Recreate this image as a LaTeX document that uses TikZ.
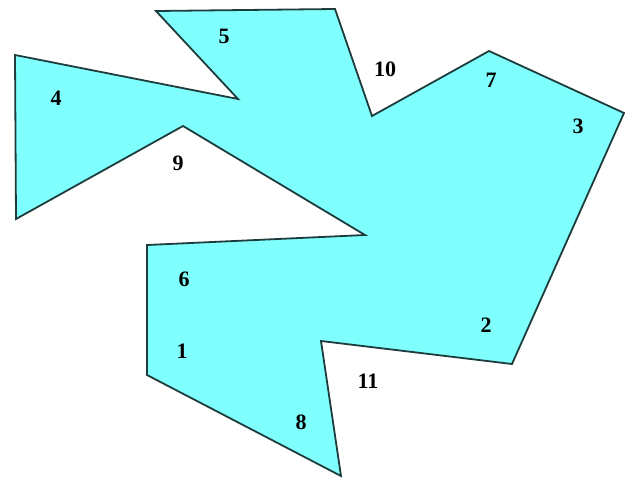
\documentclass[tikz,border=0pt]{standalone}
\usepackage{fontspec}
\setmainfont{Liberation Serif}
\definecolor{polyfill}{HTML}{80FFFF}
\definecolor{polyline}{HTML}{1E3C3C}
\begin{document}
\begin{tikzpicture}[x=1pt,y=-1pt,
  lbl/.style={font=\fontsize{22}{22}\selectfont\bfseries, text=black, inner sep=0pt}]
\useasboundingbox (0,0) rectangle (625,480);
\coordinate (a) at (156,11);
\coordinate (b) at (335,9);
\coordinate (c) at (372,116);
\coordinate (d) at (489,51);
\coordinate (e) at (624,113);
\coordinate (f) at (512,364);
\coordinate (g) at (321,341);
\coordinate (h) at (341,476);
\coordinate (i) at (147,375);
\coordinate (j) at (147,245);
\coordinate (k) at (365,235);
\coordinate (l) at (183,126);
\coordinate (m) at (16,219);
\coordinate (n) at (15,55);
\coordinate (o) at (238,99);
\draw[fill=polyfill, draw=polyline, line width=1.8pt, line join=miter]
  (a) -- (b) -- (c) -- (d) -- (e) -- (f) -- (g) -- (h) -- (i) -- (j) -- (k) -- (l) -- (m) -- (n) -- (o) -- cycle;
\node[lbl] (l5) at (224,36) {5};
\node[lbl] (l10) at (385,69) {10};
\node[lbl] (l7) at (491,80) {7};
\node[lbl] (l3) at (578,126) {3};
\node[lbl] (l4) at (56,98) {4};
\node[lbl] (l9) at (178,163) {9};
\node[lbl] (l6) at (184,279) {6};
\node[lbl] (l1) at (182,351) {1};
\node[lbl] (l2) at (486,325) {2};
\node[lbl] (l11) at (368,381) {11};
\node[lbl] (l8) at (301,422) {8};
\end{tikzpicture}
\end{document}
